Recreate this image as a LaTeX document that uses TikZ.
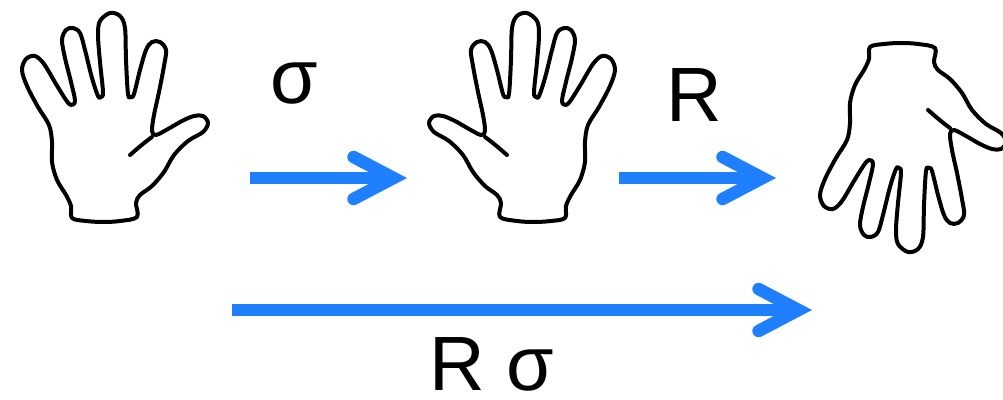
\documentclass[tikz,border=0pt]{standalone}
\usepackage{fontspec}
\setmainfont{Liberation Sans}
\usetikzlibrary{arrows.meta}
\definecolor{mapblue}{RGB}{30,127,255}
\tikzset{
  handline/.style={line width=2pt, line join=round, line cap=round},
  maparrow/.style={draw=mapblue, line width=6.25pt,
    -{Straight Barb[length=20pt, width=21pt, line cap=round, line join=miter]}},
  maplabel/.style={inner sep=0pt, anchor=base, font=\fontsize{38.5}{40}\selectfont},
  hand/.pic={
    % outline of an open left hand, palm facing, in pixel units (y down)
    \draw[handline] plot[smooth cycle, tension=0.55] coordinates {
      (72,218) (71,206) (66,195) (57,180) (52,162) (52,142) (49,125)
      (38,107) (27,86) (22,70) (26,59) (35,56) (44,64) (56,84) (66,100)
      (71,105) (75,101) (71,82) (65,58) (62,40) (66,30) (73,28) (80,33)
      (85,50) (92,78) (98,96) (101,97) (103,92) (100,62) (98,35) (100,21)
      (110,13) (120,16) (125,28) (126,60) (128,94) (131,97) (134,94)
      (140,70) (146,50) (152,42) (160,42) (166,50) (164,66) (159,92)
      (154,115) (152,131) (156,135) (168,129) (182,121) (194,116)
      (203,116) (208,123) (203,132) (188,141) (174,155) (164,172)
      (152,186) (140,195) (136,203) (137,217) (120,221) (103,222) (86,221)
    };
    % thumb crease
    \draw[handline] (130,155) .. controls (138,148) and (145,142) .. (152,137);
  }
}
\begin{document}
\begin{tikzpicture}[x=0.5pt, y=-0.5pt]
  \useasboundingbox (0,0) rectangle (1003,400);

  % the three hands: original, mirrored, mirrored then turned half a turn
  \pic (handA) at (0,0) {hand};
  \pic[xscale=-1] (handB) at (637,0) {hand};
  \pic[yscale=-1] (handC) at (798,265) {hand};

  % arrow end points
  \coordinate (s1) at (250,178);
  \coordinate (e1) at (407,178);
  \coordinate (s2) at (619,178);
  \coordinate (e2) at (776,178);
  \coordinate (s3) at (232,310);
  \coordinate (e3) at (812,310);

  \draw[maparrow] (s1) -- (e1);
  \draw[maparrow] (s2) -- (e2);
  \draw[maparrow] (s3) -- (e3);

  % labels
  \node[maplabel] (lsigma) at (294,104) {σ};
  \node[maplabel] (lrot) at (694,122) {R};
  \node[maplabel] (lboth) at (492,391) {R σ};
\end{tikzpicture}
\end{document}
